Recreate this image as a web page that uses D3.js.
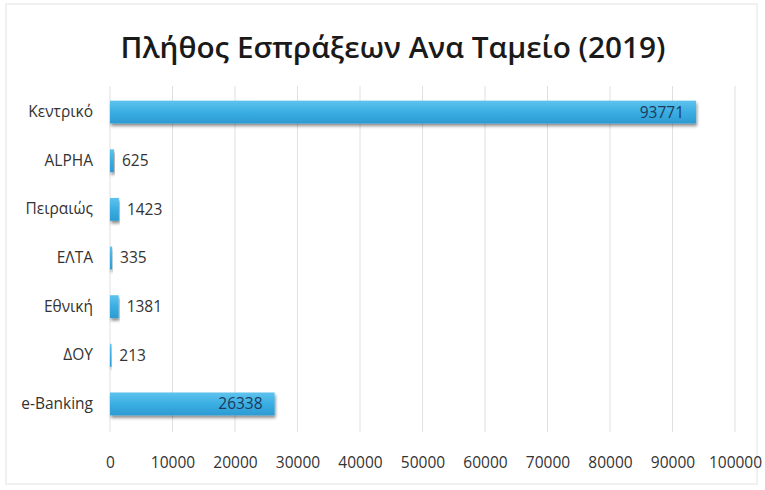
<!DOCTYPE html>
<html>
<head>
<meta charset="utf-8">
<script src="https://cdn.jsdelivr.net/npm/d3@7"></script>
<style>
  body { margin: 0; background: #fff; }
  svg { display: block; }
  text { font-family: "Open Sans", "Noto Sans", sans-serif; }
</style>
</head>
<body>
<svg id="chart" width="765" height="490"></svg>
<script>
const categories = ["Κεντρικό", "ALPHA", "Πειραιώς", "ΕΛΤΑ", "Εθνική", "ΔΟΥ", "e-Banking"];
const values = [93771, 625, 1423, 335, 1381, 213, 26338];
const xTicks = [0, 10000, 20000, 30000, 40000, 50000, 60000, 70000, 80000, 90000, 100000];
const title = "Πλήθος Εσπράξεων Ανα Ταμείο (2019)";

const data = categories.map((c, i) => ({ cat: c, val: values[i] }));

const svg = d3.select("#chart");
const W = 765, H = 490;

// faint scanned-page frame
svg.append("rect").attr("x", 6).attr("y", 4).attr("width", W - 14).attr("height", H - 10)
  .attr("fill", "#fff").attr("stroke", "#ececec").attr("stroke-width", 1.5);

const defs = svg.append("defs");
const grad = defs.append("linearGradient").attr("id", "barGrad").attr("x1", 0).attr("y1", 0).attr("x2", 0).attr("y2", 1);
grad.append("stop").attr("offset", "0%").attr("stop-color", "#5ec3ee");
grad.append("stop").attr("offset", "50%").attr("stop-color", "#3aaee2");
grad.append("stop").attr("offset", "100%").attr("stop-color", "#2c9bd3");
const filt = defs.append("filter").attr("id", "shadow").attr("x", "-5%").attr("y", "-30%").attr("width", "110%").attr("height", "180%");
filt.append("feDropShadow").attr("dx", 1).attr("dy", 2.5).attr("stdDeviation", 1.5).attr("flood-color", "#000").attr("flood-opacity", 0.45);

const x = d3.scaleLinear().domain([0, 100000]).range([110, 735]);
const y = d3.scaleBand().domain(categories).range([88, 428]).paddingInner(0.53).paddingOuter(0.26);

// title
svg.append("text").attr("x", 393).attr("y", 58).attr("text-anchor", "middle")
  .attr("font-size", 29.5).attr("font-weight", 600).attr("fill", "#1a1a1a")
  .attr("textLength", 545).attr("lengthAdjust", "spacingAndGlyphs").text(title);

// gridlines
svg.append("g").selectAll("line").data(xTicks).join("line")
  .attr("x1", d => x(d)).attr("x2", d => x(d))
  .attr("y1", 86).attr("y2", 432)
  .attr("stroke", "#e0e0e0").attr("stroke-width", 1);

// x axis labels
const xAxis = d3.axisBottom(x).tickValues(xTicks).tickSize(0).tickPadding(0).tickFormat(d3.format("d"));
const gx = svg.append("g").attr("transform", "translate(0,457)").call(xAxis);
gx.select(".domain").remove();
gx.selectAll("text").attr("font-size", 15.5).attr("fill", "#333").attr("font-family", "\"Open Sans\", sans-serif");

// y axis labels
const yAxis = d3.axisLeft(y).tickSize(0).tickPadding(0);
const gy = svg.append("g").attr("transform", "translate(93,0)").call(yAxis);
gy.select(".domain").remove();
gy.selectAll("text").attr("font-size", 15.5).attr("fill", "#333").attr("font-family", "\"Open Sans\", sans-serif");

// bars
svg.append("g").selectAll("rect").data(data).join("rect")
  .attr("x", x(0))
  .attr("y", d => y(d.cat))
  .attr("width", d => Math.max(1.5, x(d.val) - x(0)))
  .attr("height", y.bandwidth())
  .attr("fill", "url(#barGrad)")
  .attr("filter", "url(#shadow)");

// value labels
svg.append("g").selectAll("text").data(data).join("text")
  .attr("x", d => d.val > 10000 ? x(d.val) - 12 : x(d.val) + 8)
  .attr("y", d => y(d.cat) + y.bandwidth() / 2)
  .attr("dy", "0.35em")
  .attr("text-anchor", d => d.val > 10000 ? "end" : "start")
  .attr("font-size", 15.5)
  .attr("fill", d => d.val > 10000 ? "#1d3a5c" : "#333")
  .text(d => d.val);
</script>
</body>
</html>
